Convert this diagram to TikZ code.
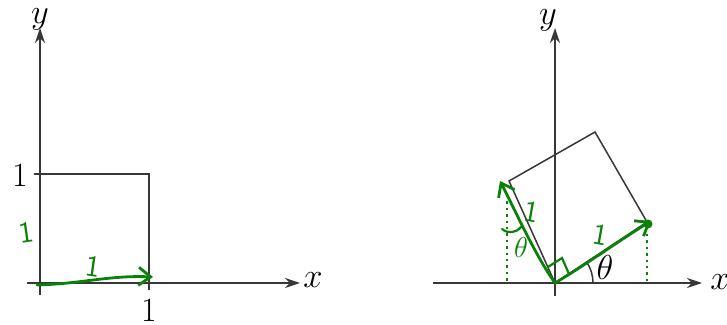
\documentclass[tikz,border=0pt]{standalone}
\usetikzlibrary{arrows.meta}
\definecolor{pen}{RGB}{10,130,10}
\definecolor{ink}{RGB}{55,55,55}
\begin{document}
\begin{tikzpicture}[x=0.5pt,y=-0.5pt,
  axis/.style={draw=ink,line width=0.85pt,-{Stealth[length=7.5pt,width=5pt]}},
  edge/.style={draw=ink,line width=0.75pt},
  lbl/.style={inner sep=0pt,font=\fontsize{17}{19}\selectfont},
  hand/.style={draw=pen,line width=1.4pt,line cap=round},
  handtip/.style={hand,-{Straight Barb[length=6pt,width=9pt]}},
  handdot/.style={draw=pen,line width=1.2pt,dotted},
  handtxt/.style={inner sep=0pt,text=pen,font=\fontsize{15}{17}\selectfont\sffamily}]
\useasboundingbox (0,0) rectangle (727,325);
% ---------- left panel ----------
\coordinate (yb1) at (40,295);
\coordinate (yt1) at (40,28);
\coordinate (xl1) at (27,283);
\coordinate (xr1) at (300,283);
\coordinate (tl1) at (34,174);
\coordinate (c1) at (149,174);
\coordinate (br1) at (149,290);
\draw[axis] (yb1) -- (yt1);
\draw[axis] (xl1) -- (xr1);
\draw[edge] (tl1) -- (c1) -- (br1);
\node[lbl] (ylab1) at (40,19) {$y$};
\node[lbl] (xlab1) at (313,280) {$x$};
\node[lbl] (one1) at (20,175) {1};
\node[lbl] (one2) at (149,310) {1};
% green
\coordinate (g0) at (37,285);
\coordinate (g1) at (153,277);
\draw[handtip] (g0) .. controls (80,284) and (110,275) .. (g1);
\node[handtxt,rotate=8] (gone1) at (26,232) {1};
\node[handtxt,rotate=-8] (gone2) at (93,266) {1};
% ---------- right panel ----------
\coordinate (O) at (555,283);
\coordinate (yb2) at (555,296);
\coordinate (yt2) at (555,28);
\coordinate (xl2) at (433,283);
\coordinate (xr2) at (702,283);
\coordinate (R) at (647,222);
\coordinate (T) at (595,132);
\coordinate (L) at (509,181);
\draw[axis] (yb2) -- (yt2);
\draw[axis] (xl2) -- (xr2);
\draw[edge] (O) -- (R) -- (T) -- (L) -- (O);
\draw[edge] ([shift={(38,0)}]O) arc[start angle=0,end angle=-33.5,radius=38];
\node[lbl] (ylab2) at (548,20) {$y$};
\node[lbl] (xlab2) at (720,282) {$x$};
\node[lbl] (th) at (605,268) {$\theta$};
% green
\coordinate (gr) at (651,221);
\coordinate (gl) at (500,181);
\draw[handtip] (O) .. controls (590,262) and (620,240) .. (gr);
\fill[pen] (648,224) circle (4.5);
\draw[handtip] (O) .. controls (535,255) and (515,210) .. (gl);
\draw[handdot] (507,195) -- (507,283);
\draw[handdot] (647,234) -- (647,283);
\draw[hand,line width=1.1pt] (569,274) -- (562,258) -- (548,267);
\draw[hand,line width=1.1pt] (502,229) .. controls (508,234) and (516,233) .. (521,227);
\node[handtxt] (gth) at (521,248) {$\theta$};
\node[handtxt,rotate=-10] (gone3) at (531,212) {1};
\node[handtxt,rotate=-10] (gone4) at (600,235) {1};
\end{tikzpicture}
\end{document}
